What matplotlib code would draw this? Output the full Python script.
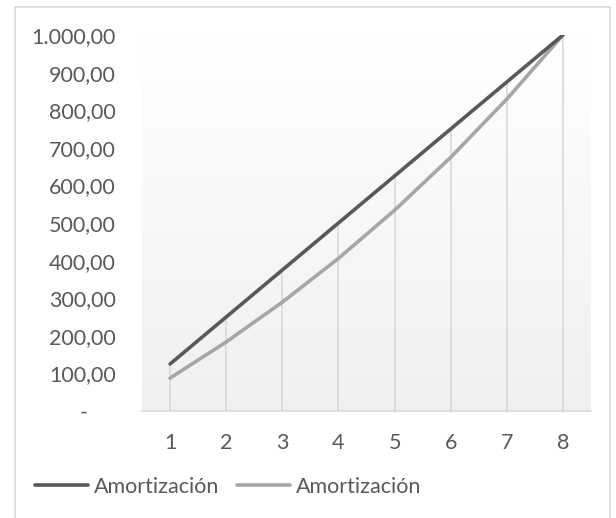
import matplotlib
matplotlib.use("Agg")
import matplotlib.pyplot as plt
import numpy as np
from matplotlib.patches import Rectangle

periods = [1, 2, 3, 4, 5, 6, 7, 8]
amort_linear = [125.00, 250.00, 375.00, 500.00, 625.00, 750.00, 875.00, 1000.00]
amort_french = [87.44, 183.63, 289.43, 405.81, 533.84, 674.66, 829.57, 1000.00]
series_labels = ["Amortización", "Amortización"]
yticks = [0, 100, 200, 300, 400, 500, 600, 700, 800, 900, 1000]

DARK = "#595959"
LIGHT = "#a6a6a6"
GRID = "#d9d9d9"
TEXT = "#595959"
FS = 15.5

plt.rcParams["font.family"] = ["Lato", "DejaVu Sans"]


def es_fmt(v):
    if v == 0:
        return "-     "
    s = f"{v:,.2f}"
    return s.replace(",", "X").replace(".", ",").replace("X", ".")


fig = plt.figure(figsize=(6.16, 5.18), dpi=100)
# chart border
fig.patches.append(Rectangle((15 / 616, -0.05), 595 / 616, 1 - 7 / 518 + 0.05,
                             transform=fig.transFigure, fill=False,
                             edgecolor=GRID, linewidth=1.2))

ax = fig.add_axes([142 / 616, 1 - 411 / 518, (591 - 142) / 616, (411 - 35) / 518])
ax.set_xlim(0.5, 8.5)
ax.set_ylim(0, 1000)

# plot area gradient: white at the top, light grey at the bottom
grad = np.linspace(1.0, 0.0, 256).reshape(-1, 1)
top, bot = np.array([1.0, 1.0, 1.0]), np.array([0.94, 0.94, 0.94])
img = top * grad[..., None] + bot * (1 - grad[..., None])
ax.imshow(img, extent=[0.5, 8.5, 0, 1000], aspect="auto", zorder=0,
          interpolation="bicubic")

# drop lines from the axis up to the highest series
tops = np.maximum(amort_linear, amort_french)
ax.vlines(periods, 0, tops, color=GRID, linewidth=1.2, zorder=1)

ax.plot(periods, amort_linear, color=DARK, linewidth=2.6,
        solid_capstyle="round", label=series_labels[0], zorder=3)
ax.plot(periods, amort_french, color=LIGHT, linewidth=2.6,
        solid_capstyle="round", label=series_labels[1], zorder=2)

for s in ("top", "right", "left"):
    ax.spines[s].set_visible(False)
ax.spines["bottom"].set_color(GRID)
ax.spines["bottom"].set_linewidth(1.2)

ax.set_xticks(periods)
ax.set_xticklabels([str(p) for p in periods])
ax.set_yticks(yticks)
ax.set_yticklabels([es_fmt(v) for v in yticks])
ax.tick_params(length=0, colors=TEXT, labelsize=FS)
ax.tick_params(axis="x", pad=16)
ax.tick_params(axis="y", pad=19)

fig.legend(loc="center left", bbox_to_anchor=(35 / 616, 1 - 487 / 518),
           ncol=2, frameon=False, fontsize=FS, labelcolor=TEXT,
           handlelength=2.45, handletextpad=0.28, columnspacing=0.85,
           borderpad=0, borderaxespad=0)

fig.savefig("out.png", dpi=100)
